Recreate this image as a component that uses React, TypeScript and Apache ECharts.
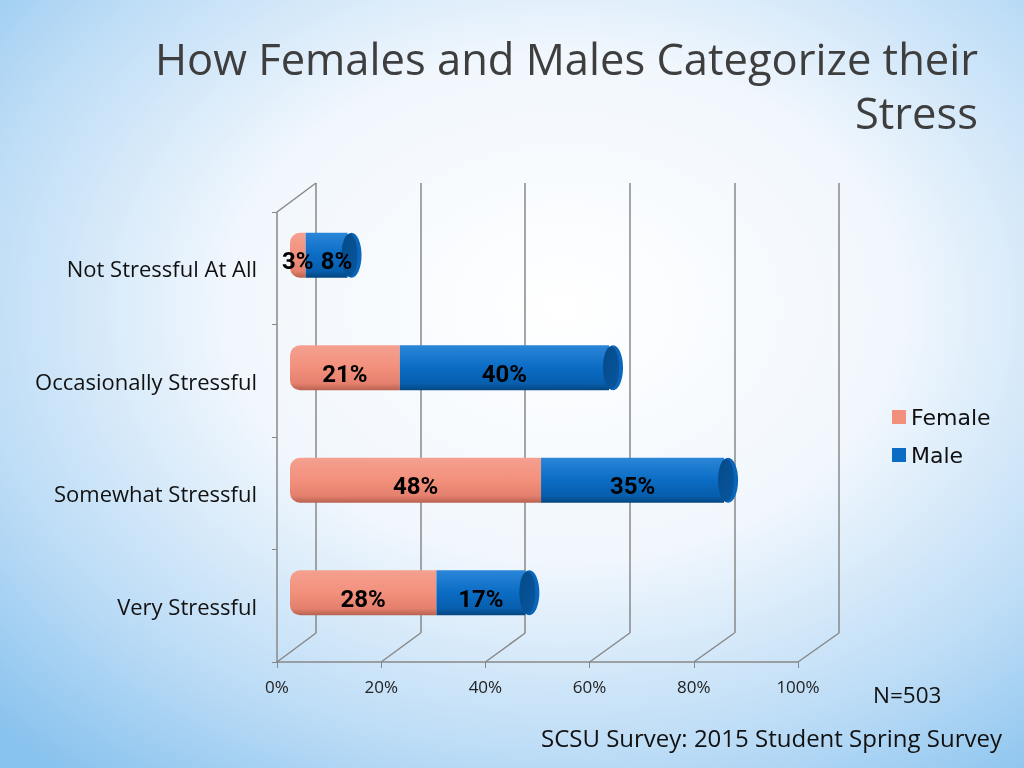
import React, { useEffect, useRef } from "react";
import * as echarts from "echarts";

const categories = ["Not Stressful At All", "Occasionally Stressful", "Somewhat Stressful", "Very Stressful"];
const female = [3, 21, 48, 28];
const male = [8, 40, 35, 17];
const xTicks = [0, 20, 40, 60, 80, 100];
const titleText = "How Females and Males Categorize their\nStress";
const nText = "N=503";
const sourceText = "SCSU Survey: 2015 Student Spring Survey";

// frame geometry (front plane, bar plane, back plane)
const FRONT = { left: 277, top: 212, width: 521, height: 450 };
const BARS = { left: 290, top: 199, width: 523, height: 450 };
const BACK = { left: 316, top: 183, width: 523, height: 450 };
const GRID_COLOR = "#888888";
const LABEL_FONT = "Roboto, 'Open Sans', sans-serif";
const TEXT_FONT = "'Open Sans', 'Noto Sans', sans-serif";
const LEGEND_FONT = "'DejaVu Sans', 'Open Sans', sans-serif";
const FEMALE_COLOR = "#f2907c";
const MALE_COLOR = "#0b6cc4";

export default function App() {
  const ref = useRef<HTMLDivElement>(null);
  useEffect(() => {
    if (!ref.current) return;
    const chart = echarts.init(ref.current, undefined, { renderer: "svg" });
    const totals = female.map((f, i) => [f + male[i], i]);
    const pxPerUnit = BARS.width / 100;
    const labelW = 32;
    // label items: [segment start, segment end, value, category index, extra x shift]
    const labelItems: number[][] = [];
    female.forEach((f, i) => {
      labelItems.push([0, f, f, i, 0]);
      labelItems.push([f, f + male[i], male[i], i, f * pxPerUnit < labelW ? 10 : 0]);
    });

    const diagonals: any[] = [];
    xTicks.forEach((_, k) => {
      const fx = FRONT.left + (FRONT.width * k) / (xTicks.length - 1);
      const bx = BACK.left + (BACK.width * k) / (xTicks.length - 1);
      diagonals.push({
        type: "line",
        shape: { x1: fx, y1: FRONT.top + FRONT.height, x2: bx, y2: BACK.top + BACK.height },
        style: { stroke: GRID_COLOR, lineWidth: 1.5 },
        silent: true,
      });
    });
    diagonals.push({
      type: "line",
      shape: { x1: FRONT.left, y1: FRONT.top, x2: BACK.left, y2: BACK.top },
      style: { stroke: GRID_COLOR, lineWidth: 1.5 },
      silent: true,
    });

    const option: any = {
      animation: false,
      backgroundColor: {
        type: "radial",
        x: 0.55,
        y: 0.4,
        r: 0.78,
        colorStops: [
          { offset: 0, color: "#ffffff" },
          { offset: 0.42, color: "#f1f7fd" },
          { offset: 0.75, color: "#bcdcf6" },
          { offset: 1, color: "#88c2ee" },
        ],
      },
      legend: {
        orient: "vertical",
        left: 887,
        top: 401,
        icon: "rect",
        itemWidth: 14,
        itemHeight: 14,
        itemGap: 16,
        data: [
          { name: "Female", itemStyle: { color: FEMALE_COLOR } },
          { name: "Male", itemStyle: { color: MALE_COLOR } },
        ],
        textStyle: { fontFamily: LEGEND_FONT, fontSize: 22, color: "#111" },
      },
      grid: [
        { ...FRONT, containLabel: false },
        { ...BARS, containLabel: false },
        { ...BACK, containLabel: false },
      ],
      xAxis: [
        {
          gridIndex: 0,
          type: "value",
          min: 0,
          max: 100,
          interval: 20,
          axisLine: { show: true, lineStyle: { color: GRID_COLOR, width: 1.5 } },
          axisTick: { show: true, length: 6, lineStyle: { color: GRID_COLOR } },
          splitLine: { show: false },
          axisLabel: { margin: 16, fontFamily: TEXT_FONT, fontSize: 17, color: "#222", formatter: "{value}%" },
        },
        { gridIndex: 1, type: "value", min: 0, max: 100, show: false },
        {
          gridIndex: 2,
          type: "value",
          min: 0,
          max: 100,
          interval: 20,
          axisLine: { show: false },
          axisTick: { show: false },
          axisLabel: { show: false },
          splitLine: { show: true, lineStyle: { color: GRID_COLOR, width: 1.5 } },
        },
      ],
      yAxis: [
        {
          gridIndex: 0,
          type: "category",
          inverse: true,
          data: categories,
          axisLine: { show: true, lineStyle: { color: GRID_COLOR, width: 1.5 } },
          axisTick: { show: true, length: 5, lineStyle: { color: GRID_COLOR } },
          axisLabel: { margin: 20, fontFamily: TEXT_FONT, fontSize: 22, color: "#111" },
        },
        { gridIndex: 1, type: "category", inverse: true, data: categories, show: false },
        { gridIndex: 2, type: "category", inverse: true, data: categories, show: false },
      ],
      series: [
        {
          name: "Female",
          type: "bar",
          stack: "total",
          xAxisIndex: 1,
          yAxisIndex: 1,
          barWidth: 45,
          z: 2,
          data: female,
          itemStyle: {
            borderRadius: [10, 0, 0, 10],
            color: {
              type: "linear",
              x: 0, y: 0, x2: 0, y2: 1,
              colorStops: [
                { offset: 0, color: "#f5a090" },
                { offset: 0.5, color: FEMALE_COLOR },
                { offset: 0.85, color: "#e4806d" },
                { offset: 1, color: "#b86150" },
              ],
            },
          },
        },
        {
          name: "Male",
          type: "bar",
          stack: "total",
          xAxisIndex: 1,
          yAxisIndex: 1,
          barWidth: 45,
          z: 2,
          data: male,
          itemStyle: {
            color: {
              type: "linear",
              x: 0, y: 0, x2: 0, y2: 1,
              colorStops: [
                { offset: 0, color: "#2a86d8" },
                { offset: 0.5, color: MALE_COLOR },
                { offset: 0.85, color: "#075ead" },
                { offset: 1, color: "#04467f" },
              ],
            },
          },
        },
        {
          name: "caps",
          type: "custom",
          xAxisIndex: 1,
          yAxisIndex: 1,
          silent: true,
          data: totals,
          z: 3,
          renderItem: (params: any, api: any) => {
            const p = api.coord([api.value(0), api.value(1)]);
            const h = 45;
            return {
              type: "group",
              children: [
                {
                  type: "ellipse",
                  shape: { cx: p[0] + 4, cy: p[1], rx: 10, ry: h / 2 },
                  style: { fill: "#0a66ba" },
                },
                {
                  type: "ellipse",
                  shape: { cx: p[0] + 2, cy: p[1], rx: 8, ry: h / 2 - 1 },
                  style: {
                    fill: {
                      type: "linear",
                      x: 0, y: 0, x2: 1, y2: 1,
                      colorStops: [
                        { offset: 0, color: "#044a87" },
                        { offset: 1, color: "#0857a0" },
                      ],
                    },
                  },
                },
              ],
            };
          },
        },
        {
          name: "labels",
          type: "custom",
          xAxisIndex: 1,
          yAxisIndex: 1,
          silent: true,
          data: labelItems,
          z: 4,
          renderItem: (params: any, api: any) => {
            const a = api.coord([api.value(0), api.value(3)]);
            const b = api.coord([api.value(1), api.value(3)]);
            return {
              type: "text",
              style: {
                text: api.value(2) + "%",
                x: (a[0] + b[0]) / 2 + api.value(4),
                y: a[1] + 6,
                align: "center",
                verticalAlign: "middle",
                fontFamily: LABEL_FONT,
                fontWeight: "bold",
                fontSize: 24,
                fill: "#000",
              },
            };
          },
        },
      ],
      graphic: [
        ...diagonals,
        {
          type: "text",
          x: 978,
          y: 31,
          style: {
            text: titleText,
            align: "right",
            verticalAlign: "top",
            fontFamily: TEXT_FONT,
            fontSize: 43.5,
            lineHeight: 54,
            fill: "#3e3e3e",
          },
        },
        {
          type: "text",
          left: 873,
          top: 683,
          style: { text: nText, fontFamily: TEXT_FONT, fontSize: 22.5, fill: "#111" },
        },
        {
          type: "text",
          left: 541,
          top: 725,
          style: { text: sourceText, fontFamily: TEXT_FONT, fontSize: 24, fill: "#111" },
        },
      ],
    };
    chart.setOption(option);
    return () => chart.dispose();
  }, []);
  return (
    <div
      ref={ref}
      style={{ position: "fixed", left: 0, top: 0, width: 1024, height: 768 }}
    />
  );
}
